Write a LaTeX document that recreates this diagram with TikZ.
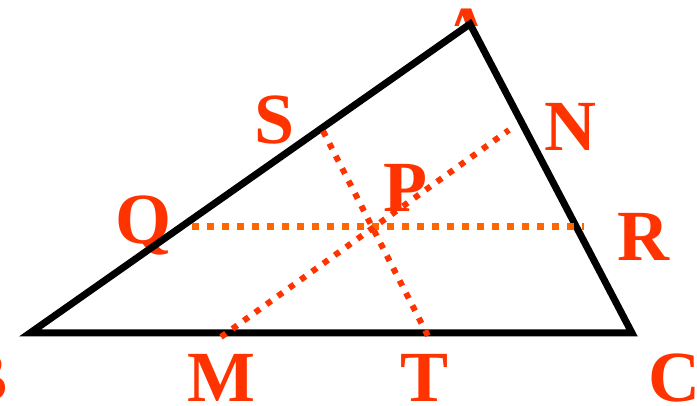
\documentclass[tikz,border=0pt]{standalone}
\usepackage{fontspec}
\setmainfont{Liberation Serif}
\usepackage{xcolor}
\definecolor{lblred}{HTML}{FF3300}
\definecolor{midorange}{HTML}{FF6600}

\begin{document}
\begin{tikzpicture}[
  x=1pt, y=-1pt,
  lbl/.style={text=lblred, anchor=base, inner sep=0pt, font=\fontsize{72}{72}\selectfont\bfseries},
  side/.style={line width=7pt, draw=black, line join=miter},
  midline/.style={line width=7pt, draw=midorange, dash pattern=on 7pt off 8pt},
  cevian/.style={line width=6pt, draw=lblred, dash pattern=on 6pt off 8pt},
]
\clip (0,0) rectangle (697,406);

% vertices and points on the sides
\coordinate (a) at (470,24);
\coordinate (b) at (30,333);
\coordinate (c) at (632,333);
\coordinate (q) at (192,227);
\coordinate (r) at (584,227);
\coordinate (s) at (323,131);
\coordinate (t) at (428,336);
\coordinate (m) at (221,337);
\coordinate (n) at (509,130);

% only the tip of A shows above the corner
\begin{scope}
  \clip (440,0) rectangle (500,26);
  \node[lbl] (la) at (466,57) {A};
\end{scope}

\node[lbl] (ls) at (275,144) {S};
\node[lbl] (ln) at (570,151) {N};
\node[lbl] (lp) at (405,212) {P};
\node[lbl] (lq) at (144,244) {Q};
\node[lbl] (lr) at (643,261) {R};
\node[lbl] (lb) at (-16,402) {B};
\node[lbl] (lm) at (221,402) {M};
\node[lbl] (lt) at (425,402) {T};
\node[lbl] (lc) at (674,402) {C};

\draw[side] (a) -- (b) -- (c) -- cycle;

\draw[midline] (q) -- (r);
\draw[cevian] (s) -- (t);
\draw[cevian] (m) -- (n);
\end{tikzpicture}
\end{document}
